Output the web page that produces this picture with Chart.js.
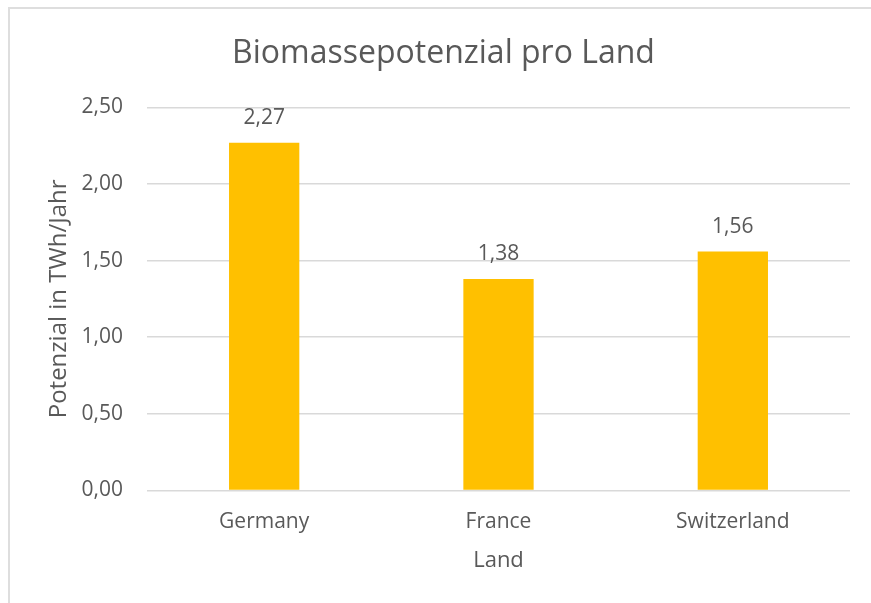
<!DOCTYPE html>
<html>
<head>
<meta charset="utf-8">
<script src="https://cdn.jsdelivr.net/npm/chart.js@4/dist/chart.umd.min.js"></script>
<style>
  html, body { margin: 0; padding: 0; background: #fff; }
  #wrap { position: relative; width: 871px; height: 603px; overflow: hidden; }
  #frame {
    position: absolute; left: 8px; top: 7px; width: 900px; height: 700px;
    border: 2px solid #dedede; box-sizing: border-box;
  }
  #chart { position: absolute; left: 0; top: 0; }
</style>
</head>
<body>
<div id="wrap">
  <div id="frame"></div>
  <canvas id="chart" width="871" height="603"></canvas>
</div>
<script>
const countries = ["Germany", "France", "Switzerland"];
const potentialTWh = [2.27, 1.38, 1.56];
const yTicks = [0, 0.5, 1, 1.5, 2, 2.5];

const textColor = "#595959";
const fontFamily = "'Open Sans', 'Noto Sans', sans-serif";

function fmt(v) {
  return v.toFixed(2).replace(".", ",");
}

// value labels above each bar
const barLabels = {
  id: "barLabels",
  afterDatasetsDraw(chart) {
    const { ctx } = chart;
    const meta = chart.getDatasetMeta(0);
    ctx.save();
    ctx.font = "21px " + fontFamily;
    ctx.fillStyle = textColor;
    ctx.textAlign = "center";
    ctx.textBaseline = "bottom";
    meta.data.forEach((bar, i) => {
      ctx.fillText(fmt(potentialTWh[i]), bar.x, bar.y - 14);
    });
    ctx.restore();
  },
};

const ctx = document.getElementById("chart").getContext("2d");
new Chart(ctx, {
  type: "bar",
  data: {
    labels: countries,
    datasets: [
      {
        label: "Potenzial",
        data: potentialTWh,
        backgroundColor: "#FFC000",
        borderWidth: 0,
        categoryPercentage: 1,
        barPercentage: 0.3,
      },
    ],
  },
  options: {
    responsive: false,
    animation: false,
    layout: { padding: { left: 37, right: 21, top: 35, bottom: 29 } },
    plugins: {
      legend: { display: false },
      tooltip: { enabled: false },
      title: {
        display: true,
        text: "Biomassepotenzial pro Land",
        color: textColor,
        font: { family: fontFamily, size: 32, weight: "normal" },
        padding: { top: 0, bottom: 34 },
      },
    },
    scales: {
      y: {
        min: 0,
        max: 2.5,
        afterBuildTicks(scale) {
          scale.ticks = yTicks.map((v) => ({ value: v }));
        },
        afterFit(scale) {
          scale.width = 110;
        },
        border: { display: false },
        grid: { color: "#d9d9d9", lineWidth: 1.5, drawTicks: false },
        ticks: {
          padding: 24,
          color: textColor,
          font: { family: fontFamily, size: 21 },
          callback: (v) => fmt(v),
        },
        title: {
          display: true,
          text: "Potenzial in TWh/Jahr",
          color: textColor,
          font: { family: fontFamily, size: 24 },
          padding: { top: 8, bottom: 0 },
        },
      },
      x: {
        border: { display: false },
        grid: { display: false, drawTicks: false },
        ticks: {
          padding: 19,
          color: textColor,
          font: { family: fontFamily, size: 21 },
        },
        title: {
          display: true,
          text: "Land",
          color: textColor,
          font: { family: fontFamily, size: 22 },
          padding: { top: -6, bottom: 0 },
        },
      },
    },
  },
  plugins: [barLabels],
});
</script>
</body>
</html>
